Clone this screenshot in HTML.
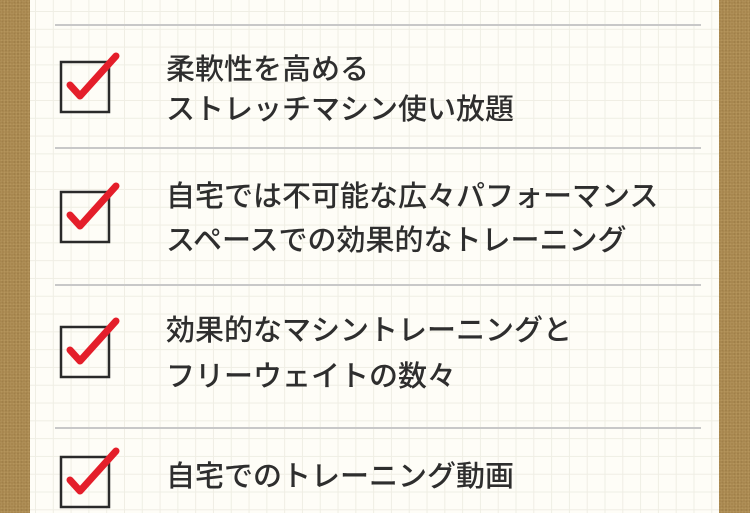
<!DOCTYPE html>
<html><head><meta charset="utf-8"><style>
html,body{margin:0;padding:0}
body{width:750px;height:513px;position:relative;overflow:hidden;background:#a8874f;
background-image:radial-gradient(rgba(255,230,170,.15) 0.8px,transparent 1px),radial-gradient(rgba(80,50,20,.12) 0.8px,transparent 1px);background-size:3px 3px,4px 4px;}
.paper{position:absolute;left:30px;top:0;width:689px;height:513px;background-color:#fefdf7;
background-image:linear-gradient(to right,#efeee4 1px,transparent 1px),linear-gradient(to bottom,#efeee4 1px,transparent 1px);
background-size:17.8px 17.8px;background-position:5px 11px;}
.hr{position:absolute;left:55px;width:646px;height:2px;background:#c8c8c8}
.t{position:absolute;left:166px;font-family:"Liberation Sans","Noto Sans CJK JP",sans-serif;font-size:29px;color:#2e2e2e;line-height:40px;white-space:nowrap;font-weight:500}
svg{position:absolute}
</style></head><body>
<div class="paper"></div>
<div class="hr" style="top:24px"></div>
<div class="hr" style="top:147px"></div>
<div class="hr" style="top:284px"></div>
<div class="hr" style="top:427px"></div>

<svg style="left:58px;top:50px" width="64" height="66"><rect x="3" y="12" width="48" height="50" fill="none" stroke="#2a2a2a" stroke-width="2.5"/><path d="M12 35 L22 46 L58 6" fill="none" stroke="#e41e2a" stroke-width="7" stroke-linecap="round" stroke-linejoin="round"/></svg>
<svg style="left:58px;top:180px" width="64" height="66"><rect x="3" y="12" width="48" height="50" fill="none" stroke="#2a2a2a" stroke-width="2.5"/><path d="M12 35 L22 46 L58 6" fill="none" stroke="#e41e2a" stroke-width="7" stroke-linecap="round" stroke-linejoin="round"/></svg>
<svg style="left:58px;top:315px" width="64" height="66"><rect x="3" y="12" width="48" height="50" fill="none" stroke="#2a2a2a" stroke-width="2.5"/><path d="M12 35 L22 46 L58 6" fill="none" stroke="#e41e2a" stroke-width="7" stroke-linecap="round" stroke-linejoin="round"/></svg>
<svg style="left:58px;top:445px" width="64" height="66"><rect x="3" y="12" width="48" height="50" fill="none" stroke="#2a2a2a" stroke-width="2.5"/><path d="M12 35 L22 46 L58 6" fill="none" stroke="#e41e2a" stroke-width="7" stroke-linecap="round" stroke-linejoin="round"/></svg>

<div class="t" style="top:50px">柔軟性を高める</div>
<div class="t" style="top:90px">ストレッチマシン使い放題</div>
<div class="t" style="top:177px">自宅では不可能な広々パフォーマンス</div>
<div class="t" style="top:221px">スペースでの効果的なトレーニング</div>
<div class="t" style="top:311px">効果的なマシントレーニングと</div>
<div class="t" style="top:357px">フリーウェイトの数々</div>
<div class="t" style="top:457px">自宅でのトレーニング動画</div>
</body></html>
